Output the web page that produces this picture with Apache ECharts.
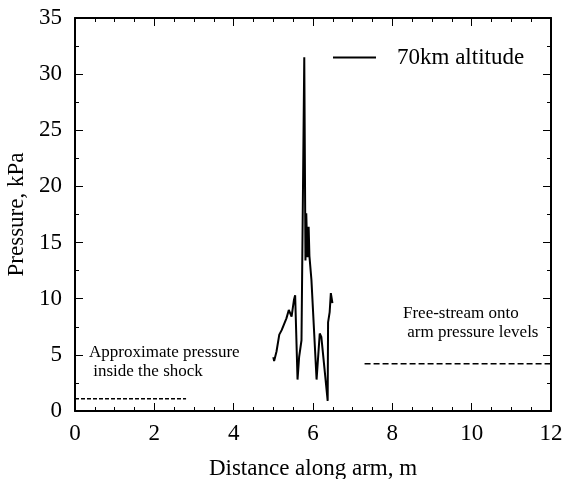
<!DOCTYPE html>
<html>
<head>
<meta charset="utf-8">
<script src="https://cdn.jsdelivr.net/npm/echarts@6/dist/echarts.min.js"></script>
<style>html,body{margin:0;padding:0;background:#fff}#chart{width:563px;height:479px}</style>
</head>
<body>
<div id="chart"></div>
<script>
// 70km altitude pressure trace
var distance = [5.0, 5.02, 5.08, 5.15, 5.21, 5.26, 5.33, 5.39, 5.46, 5.52, 5.55, 5.61, 5.65, 5.71, 5.78, 5.81, 5.83, 5.86, 5.89, 5.91, 5.96, 6.09, 6.17, 6.21, 6.37, 6.38, 6.42, 6.45, 6.49];
var pressure = [4.8, 4.45, 5.3, 6.8, 7.2, 7.3, 8.25, 9.0, 8.4, 9.9, 10.3, 2.8, 4.8, 6.3, 31.5, 13.4, 17.6, 13.7, 16.4, 13.8, 11.7, 2.8, 6.9, 6.6, 0.9, 7.9, 8.8, 10.5, 9.6];
// reference levels
var shockLevel = [[0, 1.1], [2.8, 1.1]];
var freeStreamLevel = [[7.3, 4.2], [12, 4.2]];

var font = "Liberation Serif";
var c = echarts.init(document.getElementById("chart"));

function axisBase(show){
  return {
    axisLine:{show:true,onZero:false,lineStyle:{color:"#000",width:2}},
    axisTick:{show:true,inside:true,length:8,lineStyle:{color:"#000",width:1}},
    minorTick:{show:true,length:4,lineStyle:{color:"#000",width:1}},
    splitLine:{show:false},
    axisLabel:{show:show,color:"#000",fontFamily:font,fontSize:23}
  };
}

var xb = axisBase(true), xt = axisBase(false), yl = axisBase(true), yr = axisBase(false);
xb.axisLabel.margin = 11;
yl.axisLabel.margin = 13;
xb.minorTick.splitNumber = 4; xt.minorTick.splitNumber = 4;
yl.minorTick.splitNumber = 2; yr.minorTick.splitNumber = 2;

var opt = {
  animation:false,
  grid:{left:75,right:12,top:18,bottom:68,outerBoundsMode:"none",containLabel:false},
  legend:{
    left:328,top:41,
    icon:"rect",itemWidth:43,itemHeight:2,
    textStyle:{fontFamily:font,fontSize:23,color:"#000",padding:[0,0,0,16]},
    data:["70km altitude"]
  },
  xAxis:[
    Object.assign(xb,{type:"value",min:0,max:12,interval:2,position:"bottom",
      name:"Distance along arm, m",nameLocation:"middle",nameGap:46,
      nameTextStyle:{fontFamily:font,fontSize:23,color:"#000"}}),
    Object.assign(xt,{type:"value",min:0,max:12,interval:2,position:"top"})
  ],
  yAxis:[
    Object.assign(yl,{type:"value",min:0,max:35,interval:5,position:"left",
      name:"Pressure, kPa",nameLocation:"middle",nameGap:46,
      nameTextStyle:{fontFamily:font,fontSize:23,color:"#000"}}),
    Object.assign(yr,{type:"value",min:0,max:35,interval:5,position:"right"})
  ],
  graphic:[
    {type:"text",left:89,top:343,style:{text:"Approximate pressure\n inside the shock",font:"17px "+font,fill:"#000",lineHeight:19}},
    {type:"text",left:403,top:304,style:{text:"Free-stream onto\n arm pressure levels",font:"17px "+font,fill:"#000",lineHeight:19}}
  ],
  series:[
    {name:"70km altitude",type:"line",symbol:"none",
      data:distance.map(function(d,i){return [d,pressure[i]];}),
      lineStyle:{color:"#000",width:2},itemStyle:{color:"#000"}},
    {name:"shock",type:"line",symbol:"none",data:shockLevel,
      lineStyle:{color:"#000",width:1.5,type:[4,2]}},
    {name:"free",type:"line",symbol:"none",data:freeStreamLevel,
      lineStyle:{color:"#000",width:1.5,type:[6,3]}}
  ]
};
c.setOption(opt);
window.addEventListener("resize",function(){c.resize();});
</script>
</body>
</html>
